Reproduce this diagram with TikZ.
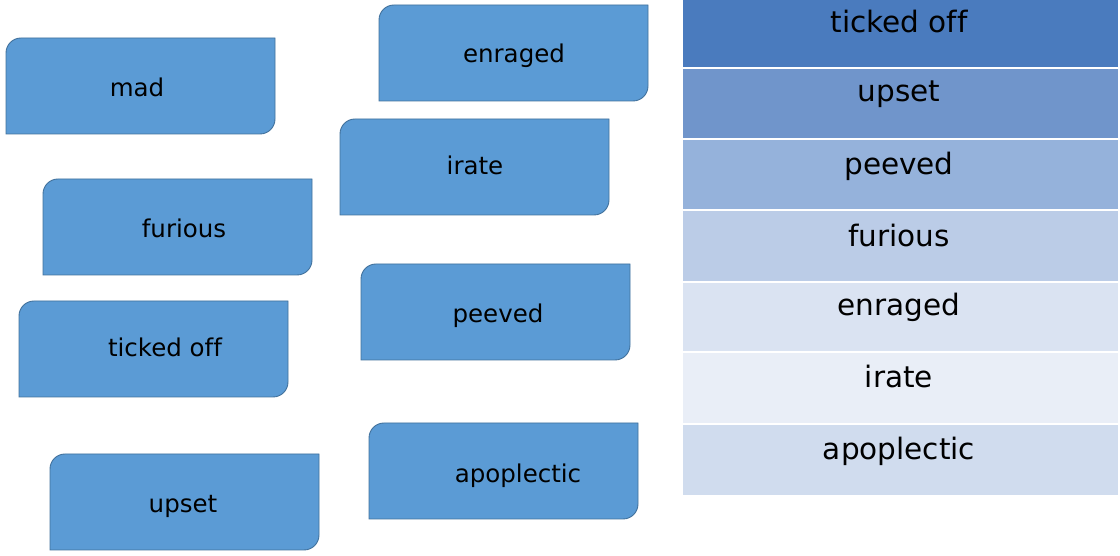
\documentclass[tikz,border=0pt]{standalone}
\usepackage{fontspec}
\setmainfont[Ligatures={NoCommon}]{DejaVu Sans}
\definecolor{boxfill}{HTML}{5B9BD5}
\definecolor{boxline}{HTML}{41719C}
\definecolor{rowA}{RGB}{74,123,190}
\definecolor{rowB}{RGB}{112,149,203}
\definecolor{rowC}{RGB}{149,178,219}
\definecolor{rowD}{RGB}{187,204,231}
\definecolor{rowE}{RGB}{218,227,242}
\definecolor{rowF}{RGB}{233,238,247}
\definecolor{rowG}{RGB}{208,220,238}
\tikzset{
  cardshape/.style={fill=boxfill, draw=boxline, line width=0.9pt},
  cardtext/.style={anchor=base, inner sep=0pt, font=\fontsize{24.5}{28}\selectfont, text=black},
  rowtext/.style={anchor=base, inner sep=0pt, font=\fontsize{29.5}{34}\selectfont, text=black},
}
% card: x1, Ytop, x2, Ybot, text x, baseline Y, name, text
\newcommand\wordcard[8]{%
  \path[cardshape] (#1,#4) -- (#1,#2-15) arc[start angle=180,end angle=90,radius=15pt]
     -- (#3,#2) -- (#3,#4+15) arc[start angle=0,end angle=-90,radius=15pt] -- cycle;
  \node[cardtext] (#7) at (#5,#6) {#8};
}
\newcommand\tablerow[6]{%
  \fill[#3] (683,#1) rectangle (1118,#2);
  \node[rowtext] (#5) at (899,#4) {#6};
}
\begin{document}
\begin{tikzpicture}[x=1pt,y=1pt]
\useasboundingbox (0,0) rectangle (1120,556);
\wordcard{6}{518}{275}{422}{137}{459}{mad}{mad}
\wordcard{379}{551}{648}{455}{514}{493}{enraged}{enraged}
\wordcard{340}{437}{609}{341}{475}{381}{irate}{irate}
\wordcard{43}{377}{312}{281}{184}{318}{furious}{furious}
\wordcard{19}{255}{288}{159}{165}{199}{tickedoff}{ticked off}
\wordcard{361}{292}{630}{196}{498}{233}{peeved}{peeved}
\wordcard{369}{133}{638}{37}{518}{73}{apoplectic}{apoplectic}
\wordcard{50}{102}{319}{6}{183}{43}{upset}{upset}
\tablerow{556}{489}{rowA}{523}{r1}{ticked off}
\tablerow{487}{418}{rowB}{454}{r2}{upset}
\tablerow{416}{347}{rowC}{381}{r3}{peeved}
\tablerow{345}{275}{rowD}{309}{r4}{furious}
\tablerow{273}{205}{rowE}{240}{r5}{enraged}
\tablerow{203}{133}{rowF}{168}{r6}{irate}
\tablerow{131}{61}{rowG}{96}{r7}{apoplectic}
\end{tikzpicture}
\end{document}
